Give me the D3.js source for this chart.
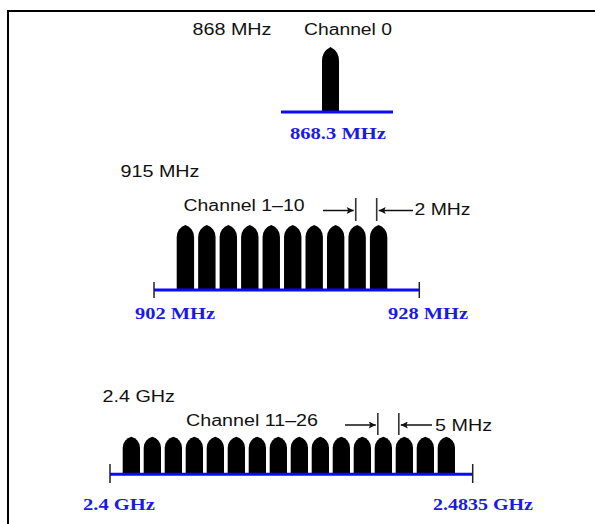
<!DOCTYPE html>
<html>
<head>
<meta charset="utf-8">
<script src="https://cdn.jsdelivr.net/npm/d3@7/dist/d3.min.js"></script>
<style>
  html, body { margin: 0; padding: 0; background: #ffffff; }
  svg { display: block; }
</style>
</head>
<body>
<svg id="chart" width="595" height="524"></svg>
<script>
// ---------------- data ----------------
const bandNames      = ["868 MHz", "915 MHz", "2.4 GHz"];
const channelLabels  = ["Channel 0", "Channel 1\u201310", "Channel 11\u201326"];
const channels868    = [0];
const channels915    = [1, 2, 3, 4, 5, 6, 7, 8, 9, 10];
const channels2400   = [11, 12, 13, 14, 15, 16, 17, 18, 19, 20, 21, 22, 23, 24, 25, 26];
const bandEdges915   = [902, 928];          // MHz
const bandEdges2400  = [2400, 2483.5];      // MHz
const edgeLabels868  = ["868.3 MHz"];
const edgeLabels915  = ["902 MHz", "928 MHz"];
const edgeLabels2400 = ["2.4 GHz", "2.4835 GHz"];
const spacingLabels  = ["2 MHz", "5 MHz"];
const spacingPairs   = [[9, 10], [23, 24]];

// ---------------- drawing ----------------
const svg = d3.select("#chart");
const BLUE_LINE = "#0a0aff";
const BLUE_TEXT = "#1a1ae6";
const SANS = "'Liberation Sans', Arial, Helvetica, sans-serif";
const SERIF = "'Liberation Serif', 'Times New Roman', serif";

// frame
svg.append("path")
  .attr("d", "M8,524 V11 H595")
  .attr("fill", "none").attr("stroke", "#000").attr("stroke-width", 2);

function label(text, x, y, w, opts = {}) {
  return svg.append("text")
    .attr("x", x).attr("y", y)
    .attr("font-family", opts.serif ? SERIF : SANS)
    .attr("font-weight", opts.serif ? "bold" : "normal")
    .attr("font-size", opts.size || 16)
    .attr("fill", opts.color || "#111")
    .attr("textLength", w)
    .attr("lengthAdjust", "spacingAndGlyphs")
    .text(text);
}

// bullet-shaped pulse: straight sides topped by a pointed (gothic) arch
function pulsePath(x0, w, top, bottom, arch) {
  const x1 = x0 + w, cx = x0 + w / 2, s = top + arch;
  const r = (w * w / 4 + arch * arch) / w;
  return `M${x0},${bottom} V${s} A${r},${r} 0 0 1 ${cx},${top}` +
         ` A${r},${r} 0 0 1 ${x1},${s} V${bottom} Z`;
}

function drawPulses(channels, range, top, bottom, arch, padding) {
  const x = d3.scaleBand().domain(channels).range(range).paddingInner(padding).paddingOuter(0);
  const y = d3.scaleLinear().domain([0, 1]).range([bottom, top]);
  svg.append("g").selectAll("path").data(channels).join("path")
    .attr("d", d => pulsePath(x(d), x.bandwidth(), y(1), y(0), arch))
    .attr("fill", "#000");
  return x;
}

function drawBaseline(edges, range, yLine, ticks) {
  const x = d3.scaleLinear().domain(edges).range(range);
  svg.append("line")
    .attr("x1", x(edges[0])).attr("x2", x(edges[1]))
    .attr("y1", yLine).attr("y2", yLine)
    .attr("stroke", BLUE_LINE).attr("stroke-width", 3);
  if (ticks) {
    svg.append("g").selectAll("line").data(edges).join("line")
      .attr("x1", d => x(d)).attr("x2", d => x(d))
      .attr("y1", ticks[0]).attr("y2", ticks[1])
      .attr("stroke", "#222").attr("stroke-width", 1.5);
  }
  return x;
}

// arrow marker
const defs = svg.append("defs");
defs.append("marker")
  .attr("id", "arrow").attr("viewBox", "0 0 10 10")
  .attr("refX", 10).attr("refY", 5)
  .attr("markerWidth", 9).attr("markerHeight", 7)
  .attr("markerUnits", "userSpaceOnUse")
  .attr("orient", "auto")
  .append("path").attr("d", "M0,0 L10,5 L0,10 L2,5 Z").attr("fill", "#111");

function spacingMarker(xs, pair, frac, yTop, yBot, yArrow, leftFrom, rightFrom) {
  const xa = xs(pair[0]) + xs.bandwidth() * frac[0];
  const xb = xs(pair[1]) + xs.bandwidth() * frac[1];
  svg.append("g").selectAll("line").data([xa, xb]).join("line")
    .attr("x1", d => d).attr("x2", d => d)
    .attr("y1", yTop).attr("y2", yBot)
    .attr("stroke", "#333").attr("stroke-width", 1.6);
  svg.append("line").attr("x1", leftFrom).attr("x2", xa - 2)
    .attr("y1", yArrow).attr("y2", yArrow)
    .attr("stroke", "#111").attr("stroke-width", 1.5).attr("marker-end", "url(#arrow)");
  svg.append("line").attr("x1", rightFrom).attr("x2", xb + 2)
    .attr("y1", yArrow).attr("y2", yArrow)
    .attr("stroke", "#111").attr("stroke-width", 1.5).attr("marker-end", "url(#arrow)");
}

// ---- 868 MHz ----
label(bandNames[0], 192.5, 34.5, 79);
label(channelLabels[0], 304, 34.5, 88);
drawPulses(channels868, [322, 339], 47, 112, 14, 0);
svg.append("line").attr("x1", 281).attr("x2", 393).attr("y1", 112).attr("y2", 112)
  .attr("stroke", BLUE_LINE).attr("stroke-width", 3);
label(edgeLabels868[0], 290, 139, 96, { serif: true, color: BLUE_TEXT });

// ---- 915 MHz ----
label(bandNames[1], 120.5, 177, 79);
label(channelLabels[1], 183.5, 211, 121);
const x915 = drawPulses(channels915, [176.7, 387.3], 225, 289, 12, 0.19);
const f915 = drawBaseline(bandEdges915, [154, 419.3], 290, [282, 298]);
spacingMarker(x915, spacingPairs[0], [0.42, 0.39], 198, 221, 210.5, 323, 413);
label(spacingLabels[0], 414.5, 215, 56);
label(edgeLabels915[0], 135, 318.5, 80, { serif: true, color: BLUE_TEXT });
label(edgeLabels915[1], 388, 318.5, 80, { serif: true, color: BLUE_TEXT });

// ---- 2.4 GHz ----
label(bandNames[2], 102.5, 401.5, 72.5);
label(channelLabels[2], 186, 425.5, 132);
const x2400 = drawPulses(channels2400, [122.7, 455], 436.7, 474, 11, 0.176);
const f2400 = drawBaseline(bandEdges2400, [110, 472.7], 474.3, [464, 483]);
spacingMarker(x2400, spacingPairs[1], [0.18, 0.18], 413, 435, 425, 345, 432);
label(spacingLabels[1], 435, 431, 57);
label(edgeLabels2400[0], 83, 510, 72, { serif: true, color: BLUE_TEXT });
label(edgeLabels2400[1], 433, 510, 100, { serif: true, color: BLUE_TEXT });
</script>
</body>
</html>
